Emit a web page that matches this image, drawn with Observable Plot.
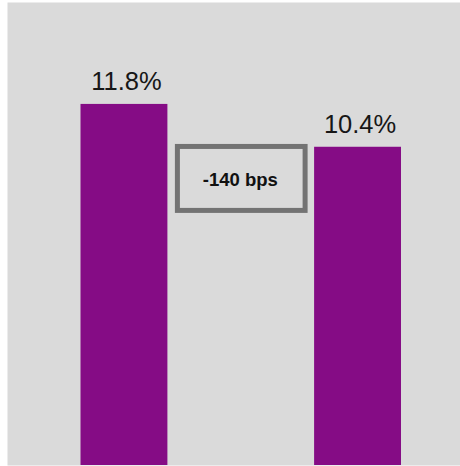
<!DOCTYPE html>
<html>
<head>
<meta charset="utf-8">
<script src="https://cdn.jsdelivr.net/npm/d3@7"></script>
<script src="https://cdn.jsdelivr.net/npm/@observablehq/plot@0.6"></script>
<style>
  html, body { margin: 0; padding: 0; background: #ffffff; }
  #chart svg { display: block; }
</style>
</head>
<body>
<div id="chart"></div>
<script>
// Data
const categories = ["Prior year", "Current year"];
const values = [11.8, 10.4];
const valueLabels = ["11.8%", "10.4%"];
const changeLabel = "-140 bps";
const changeBoxRange = [8.32, 10.41]; // in % units, the annotation box extent

const table = categories.map((c, i) => ({cat: c, value: values[i], label: valueLabels[i]}));

const purple = "#850c85";
const bg = "#dadada";

// annotation box between the bars, positioned with the chart's scales
function changeBox(index, scales) {
  const x = scales.x, y = scales.y;
  const bw = x.bandwidth ? x.bandwidth() : 0;
  const left = x(categories[0]) + bw + 10;
  const right = x(categories[1]) - 9;
  const top = y(changeBoxRange[1]);
  const bottom = y(changeBoxRange[0]);
  const g = d3.create("svg:g");
  g.append("rect")
    .attr("x", left).attr("y", top)
    .attr("width", right - left).attr("height", bottom - top)
    .attr("fill", "none").attr("stroke", "#737373").attr("stroke-width", 5);
  g.append("text")
    .attr("x", (left + right) / 2 - 1).attr("y", (top + bottom) / 2)
    .attr("dy", "0.4em")
    .attr("text-anchor", "middle")
    .attr("font-family", "'Liberation Sans', Arial, sans-serif")
    .attr("font-weight", "bold")
    .attr("font-size", 18.5)
    .attr("fill", "#111")
    .text(changeLabel);
  return g.node();
}

const chart = Plot.plot({
  width: 460,
  height: 466,
  marginLeft: 7,
  marginRight: 0,
  marginTop: 2,
  marginBottom: 1,
  style: {fontFamily: "'Liberation Sans', Arial, sans-serif", background: "#ffffff"},
  x: {domain: categories, range: [80.5, 401], paddingInner: 0.628, paddingOuter: 0, round: false, axis: null},
  y: {domain: [0, 15], range: [465, 6], axis: null},
  marks: [
    Plot.frame({fill: bg, stroke: "none"}),
    Plot.barY(table, {x: "cat", y: "value", fill: purple}),
    Plot.text(table, {x: "cat", y: "value", text: "label", dy: -14, dx: 2, lineAnchor: "bottom", fontSize: 25.5, fill: "#161616"}),
    changeBox
  ]
});
document.getElementById("chart").append(chart);
</script>
</body>
</html>
